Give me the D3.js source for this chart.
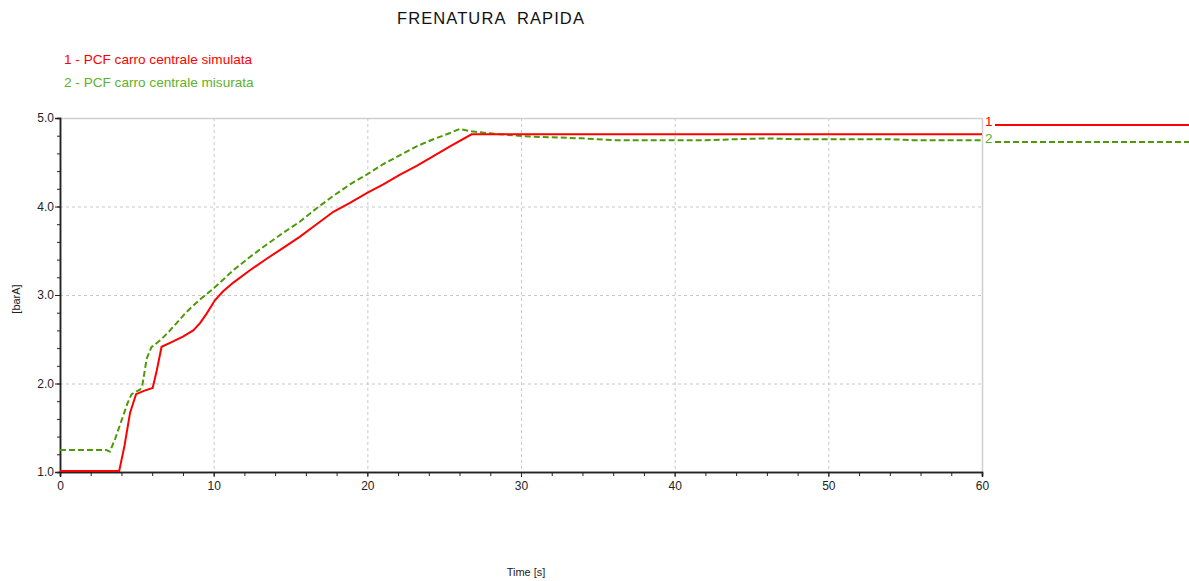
<!DOCTYPE html>
<html>
<head>
<meta charset="utf-8">
<script src="https://cdn.jsdelivr.net/npm/d3@7"></script>
<style>
  html, body { margin: 0; padding: 0; background: #fff; }
  svg { display: block; font-family: "Liberation Sans", Arial, sans-serif; }
</style>
</head>
<body>
<svg id="chart" width="1189" height="581"></svg>
<script>
// Time axis (s) and pressure traces (barA)
const timeSim = [0, 3.85, 4.2, 4.56, 4.95, 5.5, 6.03, 6.3, 6.61, 7.16, 8.0, 8.67, 9.1, 9.54, 10.08, 10.6, 11.28, 12.36, 13.45, 14.5, 15.62, 16.7, 17.79, 18.87, 19.96, 21.04, 22.13, 23.21, 24.3, 25.38, 26.78, 60];
const pcfSimulata = [1.01, 1.01, 1.3, 1.67, 1.88, 1.92, 1.95, 2.15, 2.415, 2.46, 2.53, 2.60, 2.68, 2.79, 2.94, 3.04, 3.14, 3.28, 3.41, 3.53, 3.66, 3.80, 3.94, 4.04, 4.15, 4.25, 4.36, 4.46, 4.57, 4.68, 4.815, 4.815];

const timeMis = [0, 3.0, 3.25, 3.6, 4.0, 4.4, 4.66, 5.2, 5.35, 5.64, 5.95, 6.6, 7.16, 8.24, 9.11, 9.97, 11.28, 12.36, 13.45, 14.5, 15.62, 16.7, 17.79, 18.87, 19.96, 21.04, 22.13, 23.21, 24.3, 25.38, 26.0, 26.7, 28.6, 30.6, 34.0, 36.0, 42.0, 44.0, 46.0, 48.0, 50.0, 54.0, 55.5, 60];
const pcfMisurata = [1.25, 1.25, 1.23, 1.38, 1.58, 1.78, 1.88, 1.93, 1.97, 2.28, 2.41, 2.50, 2.60, 2.81, 2.95, 3.07, 3.28, 3.43, 3.57, 3.70, 3.83, 3.98, 4.12, 4.25, 4.36, 4.48, 4.58, 4.68, 4.76, 4.83, 4.876, 4.85, 4.816, 4.79, 4.77, 4.75, 4.75, 4.76, 4.77, 4.76, 4.76, 4.76, 4.75, 4.75];

const xMajorTicks = [0, 10, 20, 30, 40, 50, 60];
const yMajorTicks = [1.0, 2.0, 3.0, 4.0, 5.0];
const legendLabels = ["1 - PCF carro centrale simulata", "2 - PCF carro centrale misurata"];

const RED = "#ff0000";
const GREEN_LINE = "#4e9a06";
const GREEN_TEXT = "#5cb32a";

const svg = d3.select("#chart");
svg.append("rect").attr("width", 1189).attr("height", 581).attr("fill", "#fff");

const x = d3.scaleLinear().domain([0, 60]).range([60, 982]);
const y = d3.scaleLinear().domain([1, 5]).range([472, 118]);

// Title
svg.append("text")
  .attr("x", 491).attr("y", 24)
  .attr("text-anchor", "middle")
  .attr("font-size", 16.5)
  .attr("letter-spacing", 1.1)
  .attr("fill", "#111")
  .attr("xml:space", "preserve")
  .text("FRENATURA  RAPIDA");

// Legend
svg.append("text").attr("x", 64).attr("y", 64).attr("font-size", 13.6).attr("fill", RED).text(legendLabels[0]);
svg.append("text").attr("x", 64).attr("y", 87).attr("font-size", 13.6).attr("fill", GREEN_TEXT).text(legendLabels[1]);

// Grid
const grid = svg.append("g").attr("stroke", "#c8c8c8").attr("stroke-width", 1).attr("stroke-dasharray", "3,3");
xMajorTicks.filter(d => d > 0 && d < 60).forEach(d => {
  grid.append("line").attr("x1", x(d) + 0.5).attr("x2", x(d) + 0.5).attr("y1", y(5)).attr("y2", y(1));
});
yMajorTicks.filter(d => d > 1 && d < 5).forEach(d => {
  grid.append("line").attr("x1", x(0)).attr("x2", x(60)).attr("y1", y(d) + 0.5).attr("y2", y(d) + 0.5);
});

// Frame (top and right)
svg.append("line").attr("x1", x(0)).attr("x2", x(60)).attr("y1", y(5) + 0.5).attr("y2", y(5) + 0.5).attr("stroke", "#cfcfcf").attr("stroke-width", 1.5);
svg.append("line").attr("x1", x(60) + 0.5).attr("x2", x(60) + 0.5).attr("y1", y(5)).attr("y2", y(1)).attr("stroke", "#cfcfcf").attr("stroke-width", 1.5);

// Axes
const xMinor = d3.range(0, 61, 2);
const yMinor = d3.range(1, 5.001, 0.2);

const xAxisMinor = svg.append("g").attr("transform", `translate(0,${y(1)})`)
  .call(d3.axisBottom(x).tickValues(xMinor).tickSize(4).tickFormat(""));
const xAxis = svg.append("g").attr("transform", `translate(0,${y(1)})`)
  .call(d3.axisBottom(x).tickValues(xMajorTicks).tickSize(5).tickPadding(4).tickFormat(d3.format("d")));
const yAxisMinor = svg.append("g").attr("transform", `translate(${x(0)},0)`)
  .call(d3.axisLeft(y).tickValues(yMinor).tickSize(3).tickFormat(""));
const yAxis = svg.append("g").attr("transform", `translate(${x(0)},0)`)
  .call(d3.axisLeft(y).tickValues(yMajorTicks).tickSize(5).tickPadding(1).tickFormat(d3.format(".1f")));

[xAxisMinor, xAxis, yAxisMinor, yAxis].forEach(g => {
  g.select(".domain").attr("stroke", "#222").attr("stroke-width", 1.5);
  g.selectAll(".tick line").attr("stroke", "#222");
  g.selectAll("text").attr("font-family", "'Liberation Sans Narrow', 'Liberation Sans', Arial, sans-serif").attr("font-size", 12).attr("fill", "#222");
});

// Axis titles
svg.append("text")
  .attr("x", 526).attr("y", 576)
  .attr("text-anchor", "middle")
  .attr("font-family", "'Liberation Sans Narrow', 'Liberation Sans', Arial, sans-serif")
  .attr("font-size", 11)
  .attr("fill", "#222")
  .text("Time [s]");
svg.append("text")
  .attr("transform", "translate(20,299) rotate(-90)")
  .attr("text-anchor", "middle")
  .attr("font-family", "'Liberation Sans Narrow', 'Liberation Sans', Arial, sans-serif")
  .attr("font-size", 11)
  .attr("fill", "#222")
  .text("[barA]");

// Traces
const line = d3.line().x(d => x(d[0])).y(d => y(d[1]));
const plot = svg.append("g");
plot.append("path")
  .datum(d3.zip(timeMis, pcfMisurata))
  .attr("d", line)
  .attr("fill", "none")
  .attr("stroke", GREEN_LINE)
  .attr("stroke-width", 2)
  .attr("stroke-dasharray", "6,3");
plot.append("path")
  .datum(d3.zip(timeSim, pcfSimulata))
  .attr("d", line)
  .attr("fill", "none")
  .attr("stroke", RED)
  .attr("stroke-width", 2);

// Curve identifiers on the right
svg.append("text").attr("x", 985).attr("y", 126).attr("font-size", 13.5).attr("fill", RED).text("1");
svg.append("line").attr("x1", 995).attr("x2", 1189).attr("y1", 125).attr("y2", 125).attr("stroke", RED).attr("stroke-width", 2);
svg.append("text").attr("x", 985).attr("y", 143).attr("font-size", 13.5).attr("fill", GREEN_TEXT).text("2");
svg.append("line").attr("x1", 995).attr("x2", 1189).attr("y1", 142).attr("y2", 142).attr("stroke", GREEN_LINE).attr("stroke-width", 2).attr("stroke-dasharray", "6,3");
</script>
</body>
</html>
